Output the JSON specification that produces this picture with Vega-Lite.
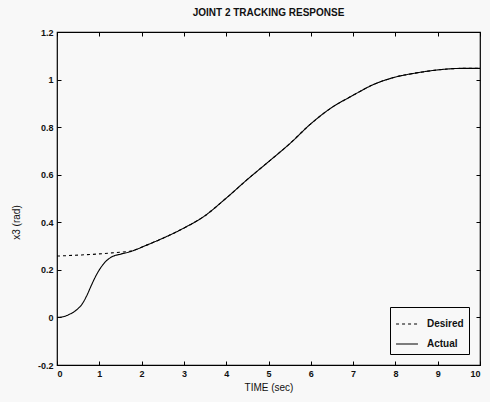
{
  "$schema": "https://vega.github.io/schema/vega-lite/v6.json",
  "autosize": {"type": "none"},
  "padding": {"left": 57, "top": 32, "right": 10, "bottom": 37},
  "width": 423,
  "height": 333,
  "background": "#f8f8f8",
  "title": {"text": "JOINT 2 TRACKING RESPONSE", "font": "Liberation Sans", "fontSize": 10, "fontWeight": "bold", "color": "#111", "offset": 10},
  "config": {
    "view": {"stroke": "#000", "strokeWidth": 1.2},
    "axis": {"labelFont": "Liberation Sans", "labelFontWeight": "bold", "labelFontSize": 9, "labelColor": "#111", "titleFont": "Liberation Sans", "titleFontWeight": "normal", "titleFontSize": 10, "titleColor": "#111", "grid": false, "domain": false, "tickColor": "#000", "tickSize": -4, "labelPadding": 8, "labelExpr": "'' + datum.value"}
  },
  "data": {"values": [
    {"t": 0, "y": 0.258, "s": "Desired"},
    {"t": 0.5, "y": 0.262, "s": "Desired"},
    {"t": 1.0, "y": 0.267, "s": "Desired"},
    {"t": 1.4, "y": 0.273, "s": "Desired"},
    {"t": 1.72, "y": 0.278, "s": "Desired"},
    {"t": 2.12, "y": 0.304, "s": "Desired"},
    {"t": 2.98, "y": 0.374, "s": "Desired"},
    {"t": 3.46, "y": 0.423, "s": "Desired"},
    {"t": 3.99, "y": 0.5, "s": "Desired"},
    {"t": 4.48, "y": 0.577, "s": "Desired"},
    {"t": 4.99, "y": 0.653, "s": "Desired"},
    {"t": 5.5, "y": 0.73, "s": "Desired"},
    {"t": 6.0, "y": 0.814, "s": "Desired"},
    {"t": 6.45, "y": 0.877, "s": "Desired"},
    {"t": 6.99, "y": 0.933, "s": "Desired"},
    {"t": 7.48, "y": 0.979, "s": "Desired"},
    {"t": 7.99, "y": 1.01, "s": "Desired"},
    {"t": 8.5, "y": 1.028, "s": "Desired"},
    {"t": 8.97, "y": 1.04, "s": "Desired"},
    {"t": 9.6, "y": 1.047, "s": "Desired"},
    {"t": 10, "y": 1.047, "s": "Desired"},
    {"t": 0, "y": 0, "s": "Actual"},
    {"t": 0.15, "y": 0.003, "s": "Actual"},
    {"t": 0.28, "y": 0.012, "s": "Actual"},
    {"t": 0.45, "y": 0.03, "s": "Actual"},
    {"t": 0.6, "y": 0.058, "s": "Actual"},
    {"t": 0.7, "y": 0.09, "s": "Actual"},
    {"t": 0.8, "y": 0.13, "s": "Actual"},
    {"t": 0.9, "y": 0.168, "s": "Actual"},
    {"t": 1.0, "y": 0.2, "s": "Actual"},
    {"t": 1.15, "y": 0.235, "s": "Actual"},
    {"t": 1.3, "y": 0.255, "s": "Actual"},
    {"t": 1.5, "y": 0.266, "s": "Actual"},
    {"t": 1.72, "y": 0.276, "s": "Actual"},
    {"t": 2.12, "y": 0.304, "s": "Actual"},
    {"t": 2.98, "y": 0.374, "s": "Actual"},
    {"t": 3.46, "y": 0.423, "s": "Actual"},
    {"t": 3.99, "y": 0.5, "s": "Actual"},
    {"t": 4.48, "y": 0.577, "s": "Actual"},
    {"t": 4.99, "y": 0.653, "s": "Actual"},
    {"t": 5.5, "y": 0.73, "s": "Actual"},
    {"t": 6.0, "y": 0.814, "s": "Actual"},
    {"t": 6.45, "y": 0.877, "s": "Actual"},
    {"t": 6.99, "y": 0.933, "s": "Actual"},
    {"t": 7.48, "y": 0.979, "s": "Actual"},
    {"t": 7.99, "y": 1.01, "s": "Actual"},
    {"t": 8.5, "y": 1.028, "s": "Actual"},
    {"t": 8.97, "y": 1.04, "s": "Actual"},
    {"t": 9.6, "y": 1.047, "s": "Actual"},
    {"t": 10, "y": 1.047, "s": "Actual"}
  ]},
  "layer": [
    {
      "mark": {"type": "line", "color": "#000", "strokeWidth": 1.1, "interpolate": "monotone"},
      "encoding": {
        "x": {"field": "t", "type": "quantitative", "scale": {"domain": [0, 10], "nice": false}, "axis": {"title": "TIME (sec)", "values": [0,1,2,3,4,5,6,7,8,9,10], "titlePadding": 4}},
        "y": {"field": "y", "type": "quantitative", "scale": {"domain": [-0.2, 1.2], "nice": false}, "axis": {"title": "x3 (rad)", "values": [-0.2,0,0.2,0.4,0.6,0.8,1,1.2], "titlePadding": 16, "titleY": 190}},
        "strokeDash": {"field": "s", "type": "nominal", "scale": {"domain": ["Desired", "Actual"], "range": [[3, 3], [1, 0]]},
          "legend": {"title": null, "orient": "bottom-right", "offset": 11, "strokeColor": "#000", "fillColor": "#f8f8f8", "padding": 5, "labelFont": "Liberation Sans", "labelFontWeight": "bold", "labelFontSize": 10, "labelColor": "#111", "labelOffset": 8, "symbolType": "stroke", "symbolStrokeColor": "#000", "symbolSize": 480, "symbolStrokeWidth": 1.1, "rowPadding": 3}}
      }
    },
    {
      "mark": {"type": "line", "opacity": 0},
      "encoding": {
        "x": {"field": "t", "type": "quantitative", "axis": {"orient": "top", "labels": false, "title": null, "values": [0,1,2,3,4,5,6,7,8,9,10]}},
        "y": {"field": "y", "type": "quantitative", "axis": {"orient": "right", "labels": false, "title": null, "values": [-0.2,0,0.2,0.4,0.6,0.8,1,1.2]}},
        "detail": {"field": "s"}
      }
    }
  ],
  "resolve": {"axis": {"x": "independent", "y": "independent"}}
}
